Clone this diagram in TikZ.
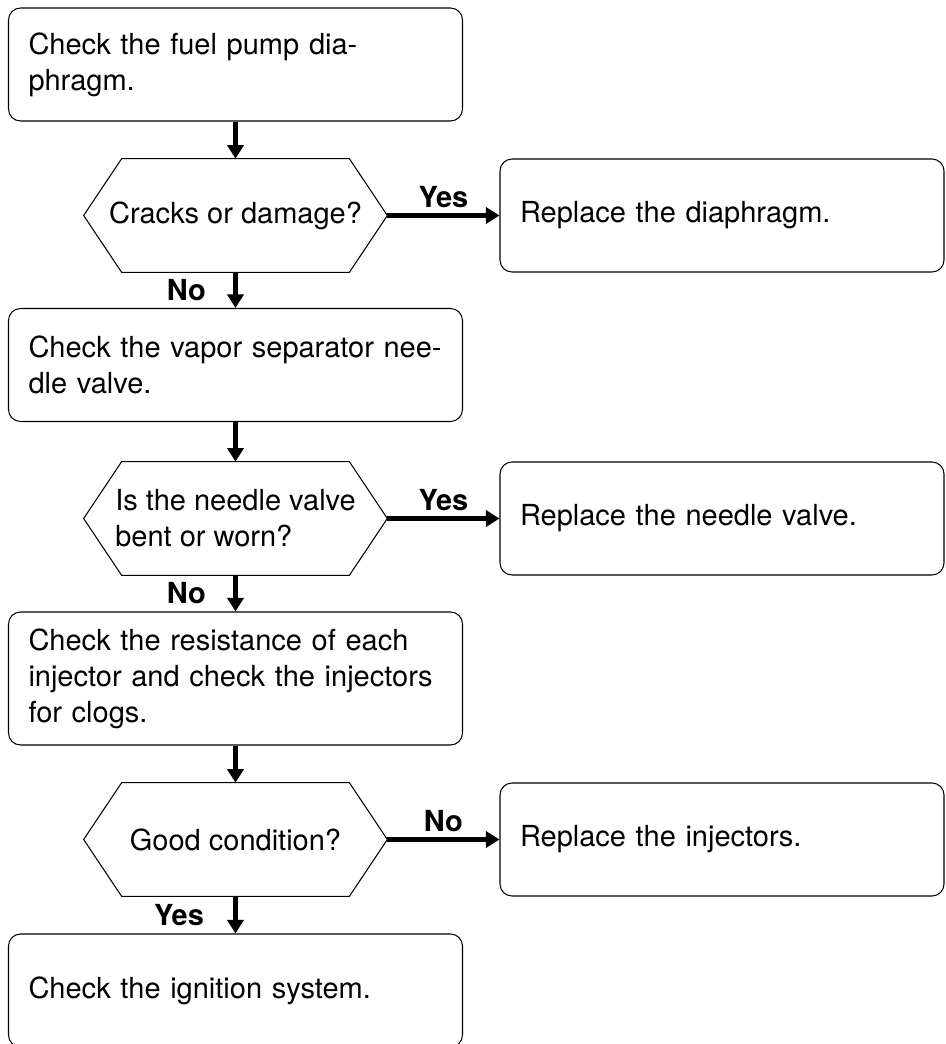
\documentclass[tikz,border=0pt]{standalone}
\usepackage{fontspec}
\setmainfont{TeX Gyre Heros}
\usetikzlibrary{arrows.meta}

\begin{document}
\begin{tikzpicture}[
    every node/.style={font=\fontsize{16.5}{20.5}\selectfont},
    action/.style={draw, line width=0.6pt, rounded corners=0.24cm,
      minimum height=2.26cm, inner xsep=0.4cm, align=left},
    check/.style={action, text width=8.28cm},
    fix/.style={action, text width=8.08cm},
    query/.style={minimum width=6.06cm, minimum height=2.26cm, inner sep=0pt,
      align=left},
    flow/.style={-{Triangle[width=0.32cm,length=0.27cm]}, line width=2.6pt},
    answer/.style={font=\fontsize{16.5}{20.5}\selectfont\bfseries}
  ]
  \useasboundingbox (0,0) rectangle (18.9,-20.88);

  % main column
  \node[check] (c1) at (4.71,-1.29) {Check the fuel pump dia-\\phragm.};
  \node[query] (q1) at (4.71,-4.31) {Cracks or damage?};
  \node[check] (c2) at (4.71,-7.30) {Check the vapor separator nee-\\dle valve.};
  \node[query] (q2) at (4.71,-10.37) {Is the needle valve\\bent or worn?};
  \node[check, minimum height=2.66cm] (c3) at (4.71,-13.57)
    {Check the resistance of each\\injector and check the injectors\\for clogs.};
  \node[query] (q3) at (4.71,-16.79) {Good condition?};
  \node[check] (c4) at (4.71,-19.81) {Check the ignition system.};

  % repairs
  \node[fix] (r1) at (14.44,-4.31) {Replace the diaphragm.};
  \node[fix] (r2) at (14.44,-10.37) {Replace the needle valve.};
  \node[fix] (r3) at (14.44,-16.79) {Replace the injectors.};

  % hexagon outlines round the questions
  \foreach \q in {q1,q2,q3}
    \draw[line width=0.6pt] (\q.west) -- ([xshift=0.76cm]\q.north west)
      -- ([xshift=-0.76cm]\q.north east) -- (\q.east)
      -- ([xshift=-0.76cm]\q.south east) -- ([xshift=0.76cm]\q.south west)
      -- cycle;

  \begin{scope}[flow]
    \draw (c1) to (q1);
    \draw (q1) to node[answer, left=0.43cm] {No} (c2);
    \draw (c2) to (q2);
    \draw (q2) to node[answer, left=0.43cm] {No} (c3);
    \draw (c3) to (q3);
    \draw (q3) to node[answer, left=0.47cm] {Yes} (c4);
    \draw (q1) to node[answer, above] {Yes} (r1);
    \draw (q2) to node[answer, above] {Yes} (r2);
    \draw (q3) to node[answer, above] {No} (r3);
  \end{scope}
\end{tikzpicture}
\end{document}
